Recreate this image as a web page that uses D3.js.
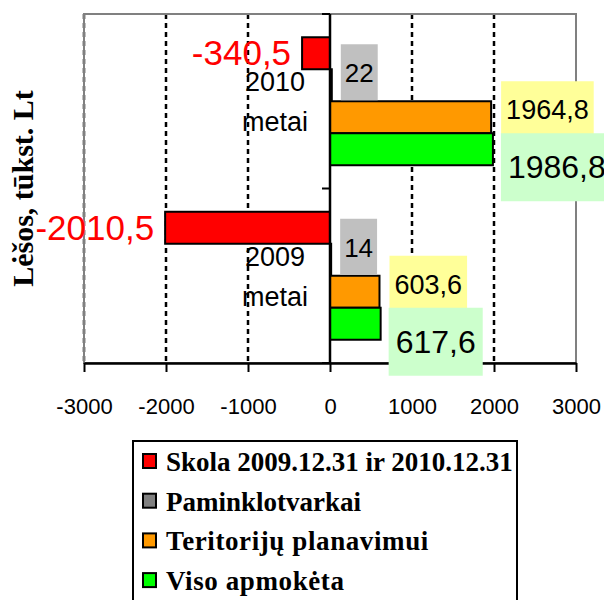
<!DOCTYPE html>
<html>
<head>
<meta charset="utf-8">
<script src="https://cdn.jsdelivr.net/npm/d3@7"></script>
<style>
	body { margin: 0; background: #fff; }
	svg { display: block; }
</style>
</head>
<body>
<div id="chart"></div>
<script>
	"use strict";

	// data
	var categories = ["2010", "2009"];
	var categorySub = "metai";
	var seriesNames = ["Skola 2009.12.31 ir 2010.12.31", "Paminklotvarkai", "Teritorijų planavimui", "Viso apmokėta"];
	var skola = [-340.5, -2010.5];
	var paminklai = [22, 14];
	var teritorijos = [1964.8, 603.6];
	var viso = [1986.8, 617.6];
	var xTicks = [-3000, -2000, -1000, 0, 1000, 2000, 3000];
	var yTitle = "Lėšos, tūkst. Lt";

	var seriesValues = [skola, paminklai, teritorijos, viso];
	var colors = ["#ff0000", "#808080", "#ff9900", "#00ff00"];

	var sans = "'Liberation Sans', Arial, sans-serif";
	var serif = "'Liberation Serif', 'Times New Roman', serif";

	var width = 604, height = 600;
	var svg = d3.select("#chart")
		.append("svg")
		.attr("width", width)
		.attr("height", height);

	var x = d3.scaleLinear()
		.domain([-3000, 3000])
		.range([84, 576]);

	var y0 = d3.scaleBand()
		.domain(categories)
		.range([14, 363]);

	var y1 = d3.scaleBand()
		.domain(d3.range(seriesNames.length))
		.range([0, y0.bandwidth()])
		.paddingInner(0)
		.paddingOuter(0.727);

	var plotTop = y0.range()[0], plotBottom = y0.range()[1];

	// excel style: decimal comma, plain hyphen
	function fmt(v) {
		return String(v).replace(".", ",");
	}

	// dotted gridlines
	svg.selectAll(".grid")
		.data(xTicks.filter(function(t) { return t != 0 && t != 3000; }))
		.enter()
		.append("line")
		.attr("class", "grid")
		.attr("x1", function(d) { return x(d); })
		.attr("x2", function(d) { return x(d); })
		.attr("y1", plotTop)
		.attr("y2", plotBottom)
		.attr("stroke", "#000")
		.attr("stroke-width", 2.5)
		.attr("stroke-dasharray", "5,4");

	// plot frame
	svg.append("rect")
		.attr("x", x(-3000))
		.attr("y", plotTop)
		.attr("width", x(3000) - x(-3000))
		.attr("height", plotBottom - plotTop)
		.attr("fill", "none")
		.attr("stroke", "#808080")
		.attr("stroke-width", 2);

	// bottom axis
	var xAxis = svg.append("g")
		.attr("transform", "translate(0," + plotBottom + ")")
		.call(d3.axisBottom(x)
			.tickValues(xTicks)
			.tickFormat(function(d) { return String(d); })
			.tickSize(9)
			.tickSizeOuter(0)
			.tickPadding(26));
	xAxis.select(".domain").attr("stroke", "#000").attr("stroke-width", 2.5);
	xAxis.selectAll(".tick line").attr("stroke", "#000").attr("stroke-width", 2);
	xAxis.selectAll(".tick text")
		.attr("fill", "#000")
		.style("font-family", sans)
		.style("font-size", "22px");

	// bars
	var groups = svg.selectAll(".cat")
		.data(categories)
		.enter()
		.append("g")
		.attr("class", "cat")
		.attr("transform", function(d) { return "translate(0," + y0(d) + ")"; });

	groups.selectAll("rect")
		.data(function(d, ci) {
			return seriesValues.map(function(s, si) { return { si: si, value: s[ci] }; });
		})
		.enter()
		.append("rect")
		.attr("x", function(d) { return x(Math.min(0, d.value)); })
		.attr("y", function(d) { return y1(d.si); })
		.attr("width", function(d) { return Math.abs(x(d.value) - x(0)); })
		.attr("height", y1.bandwidth())
		.attr("fill", function(d) { return colors[d.si]; })
		.attr("stroke", "#000")
		.attr("stroke-width", 2);

	// zero axis with ticks on category edges
	svg.append("line")
		.attr("x1", x(0)).attr("x2", x(0))
		.attr("y1", plotTop).attr("y2", plotBottom)
		.attr("stroke", "#000")
		.attr("stroke-width", 2.5);

	var edges = categories.map(function(c) { return y0(c); }).concat([plotBottom]);
	svg.selectAll(".ytick")
		.data(edges)
		.enter()
		.append("line")
		.attr("class", "ytick")
		.attr("x1", x(0) - 8).attr("x2", x(0))
		.attr("y1", function(d) { return d; })
		.attr("y2", function(d) { return d; })
		.attr("stroke", "#000")
		.attr("stroke-width", 2);

	// category labels "2010 / metai"
	groups.append("text")
		.attr("x", x(0) - 55)
		.attr("y", 77)
		.attr("text-anchor", "middle")
		.style("font-family", sans)
		.style("font-size", "27px")
		.text(function(d) { return d; });

	groups.append("text")
		.attr("x", x(0) - 55)
		.attr("y", 117)
		.attr("text-anchor", "middle")
		.style("font-family", sans)
		.style("font-size", "27px")
		.text(categorySub);

	// data labels
	groups.each(function(c, ci) {
		var g = d3.select(this);

		// red: plain text left of the bar
		var v = skola[ci];
		g.append("text")
			.attr("x", x(v) - 11)
			.attr("y", y1(0) + y1.bandwidth() / 2 + 12)
			.attr("text-anchor", "end")
			.attr("fill", "#ff0000")
			.style("font-family", sans)
			.style("font-size", "35px")
			.text(fmt(v));

		// boxed labels: gray, orange, green
		var boxed = [
			{ si: 1, fill: "#c0c0c0", size: 26, dx: 9, dy: -25, h: 56, base: 38, pad: 4 },
			{ si: 2, fill: "#ffff99", size: 27, dx: 10, dy: -20, h: 56, base: 38, pad: 5 },
			{ si: 3, fill: "#ccffcc", size: 32, dx: 8, dy: 0, h: 68, base: 45, pad: 7 }
		];
		boxed.forEach(function(b) {
			var val = seriesValues[b.si][ci];
			var bx = x(val) + b.dx;
			var by = y1(b.si) + b.dy;
			var box = g.append("rect")
				.attr("x", bx)
				.attr("y", by)
				.attr("height", b.h)
				.attr("fill", b.fill);
			var t = g.append("text")
				.attr("y", by + b.base)
				.attr("text-anchor", "middle")
				.style("font-family", sans)
				.style("font-size", b.size + "px")
				.text(fmt(val));
			var w = t.node().getComputedTextLength() + b.pad * 2;
			box.attr("width", w);
			t.attr("x", bx + w / 2);
		});
	});

	// y title
	svg.append("text")
		.attr("transform", "translate(33," + (plotTop + plotBottom) / 2 + ") rotate(-90)")
		.attr("text-anchor", "middle")
		.style("font-family", serif)
		.style("font-weight", "bold")
		.style("font-size", "30px")
		.text(yTitle);

	// legend
	var legend = svg.append("g");
	legend.append("rect")
		.attr("x", 133)
		.attr("y", 441)
		.attr("width", 384)
		.attr("height", 200)
		.attr("fill", "#fff")
		.attr("stroke", "#000")
		.attr("stroke-width", 2);

	var items = legend.selectAll(".item")
		.data(seriesNames)
		.enter()
		.append("g")
		.attr("class", "item")
		.attr("transform", function(d, i) { return "translate(0," + (i * 39.7) + ")"; });

	items.append("rect")
		.attr("x", 143)
		.attr("y", 454)
		.attr("width", 13)
		.attr("height", 14)
		.attr("fill", function(d, i) { return colors[i]; })
		.attr("stroke", "#000")
		.attr("stroke-width", 2);

	items.append("text")
		.attr("x", 166)
		.attr("y", 471)
		.style("font-family", serif)
		.style("font-weight", "bold")
		.style("font-size", "27px")
		.style("letter-spacing", function(d, i) { return i >= 2 ? "0.6px" : "0px"; })
		.text(function(d) { return d; });
</script>
</body>
</html>
